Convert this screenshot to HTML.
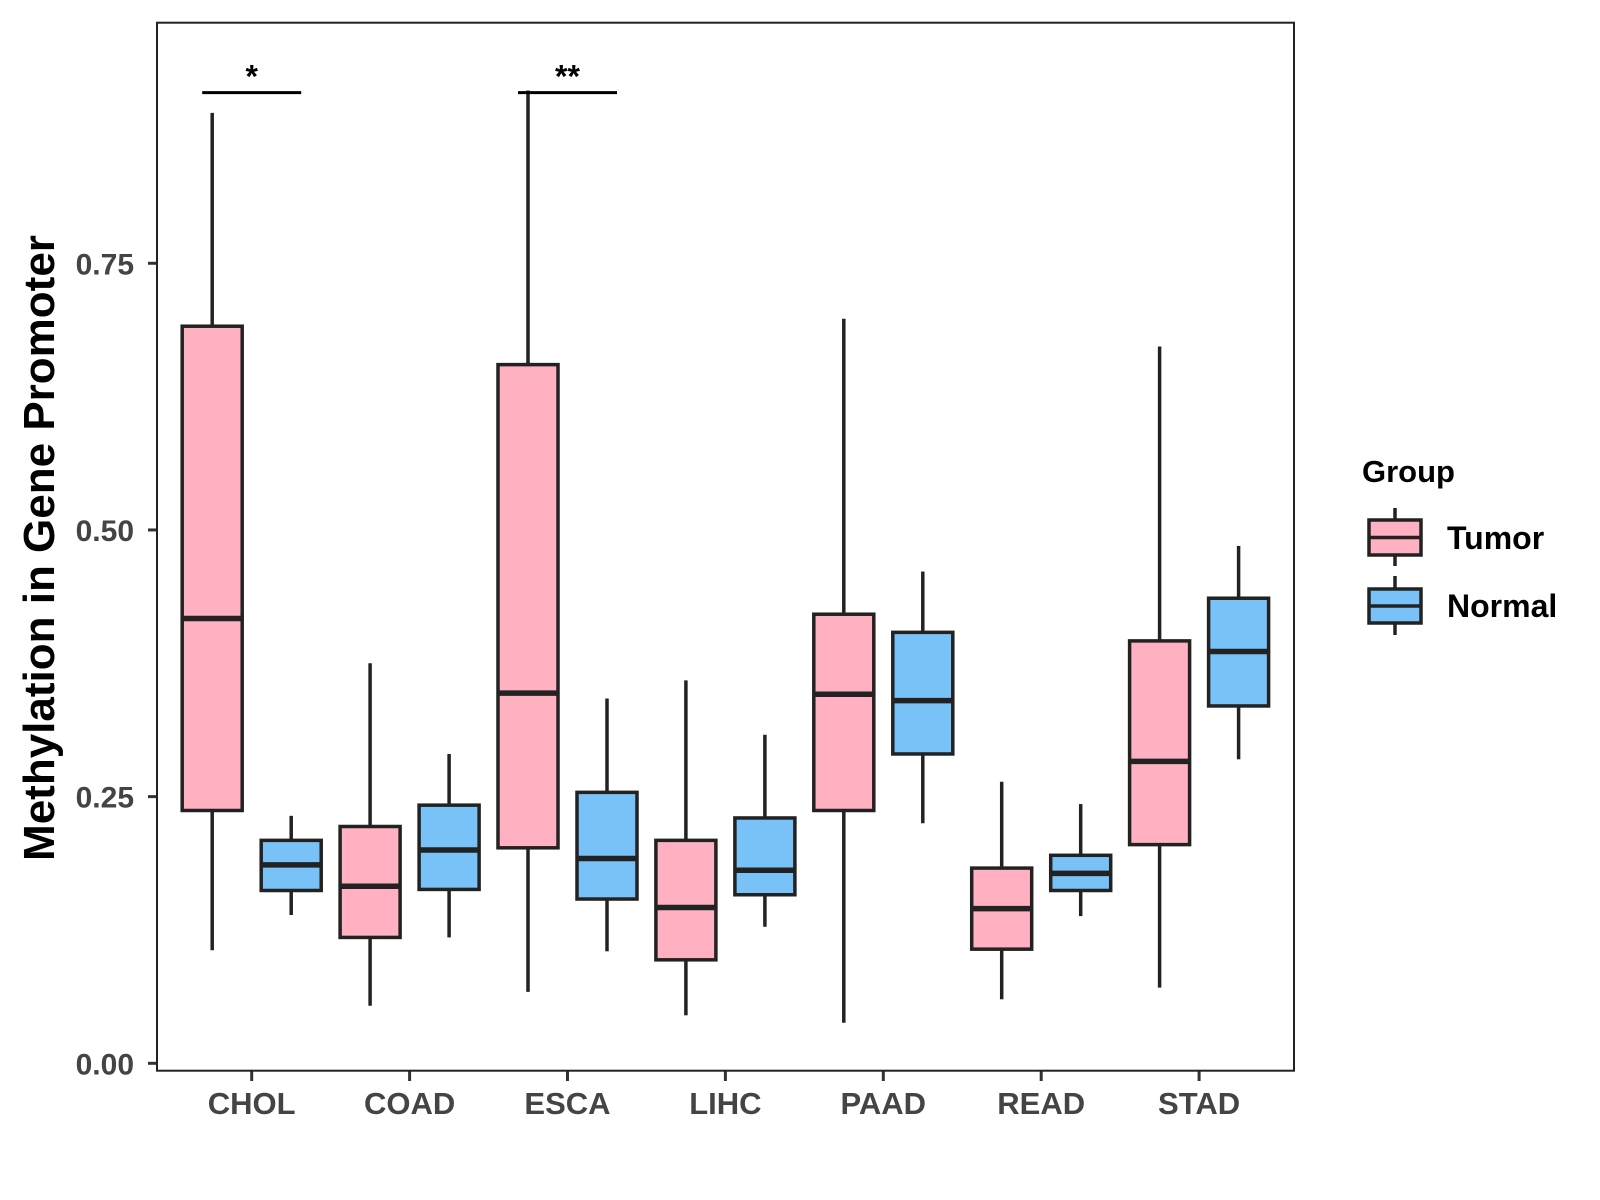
<!DOCTYPE html>
<html><head><meta charset="utf-8"><style>
html,body{margin:0;padding:0;background:#fff;}
svg{display:block;font-family:"Liberation Sans",Arial,sans-serif;}
</style></head><body>
<svg id="chart" width="1600" height="1200" viewBox="0 0 1600 1200" xmlns="http://www.w3.org/2000/svg">
<rect x="0" y="0" width="1600" height="1200" fill="#fff"/>
<g id="marks"></g>
<rect x="157" y="22.7" width="1137" height="1048" fill="none" stroke="#222" stroke-width="2"/>
<text transform="translate(54,548) rotate(-90)" text-anchor="middle" font-size="44" font-weight="bold" fill="#000">Methylation in Gene Promoter</text>
<g>
<text x="1362" y="482" font-size="31" font-weight="bold" fill="#000">Group</text>
<g>
<line x1="1395" y1="508" x2="1395" y2="566" stroke="#222" stroke-width="3.5"/>
<rect x="1369" y="520" width="52" height="35" fill="#FFB0C1" stroke="#222" stroke-width="3.5"/>
<line x1="1369" y1="537.5" x2="1421" y2="537.5" stroke="#222" stroke-width="3.5"/>
<text x="1447" y="549" font-size="32" font-weight="bold" fill="#000">Tumor</text>
</g>
<g>
<line x1="1395" y1="576" x2="1395" y2="635" stroke="#222" stroke-width="3.5"/>
<rect x="1369" y="589" width="52" height="34" fill="#78C2F8" stroke="#222" stroke-width="3.5"/>
<line x1="1369" y1="606" x2="1421" y2="606" stroke="#222" stroke-width="3.5"/>
<text x="1447" y="617" font-size="32" font-weight="bold" fill="#000">Normal</text>
</g>
</g>
</svg>
<script>
const categories = ["CHOL","COAD","ESCA","LIHC","PAAD","READ","STAD"];
// [lower whisker, Q1, median, Q3, upper whisker]
const tumorStats = [
  [0.106,0.237,0.417,0.691,0.891],
  [0.054,0.118,0.166,0.222,0.375],
  [0.067,0.202,0.347,0.655,0.912],
  [0.045,0.097,0.146,0.209,0.359],
  [0.038,0.237,0.346,0.421,0.698],
  [0.060,0.107,0.145,0.183,0.264],
  [0.071,0.205,0.283,0.396,0.672]
];
const normalStats = [
  [0.139,0.162,0.186,0.209,0.232],
  [0.118,0.163,0.200,0.242,0.290],
  [0.105,0.154,0.192,0.254,0.342],
  [0.128,0.158,0.181,0.230,0.308],
  [0.225,0.290,0.340,0.404,0.461],
  [0.138,0.162,0.178,0.195,0.243],
  [0.285,0.335,0.386,0.436,0.485]
];
const yTicks = [0, 0.25, 0.5, 0.75];
const yTickLabels = ["0.00","0.25","0.50","0.75"];
const sigCategories = ["CHOL","ESCA"];
const sigLabels = ["*","**"];
const sigLevel = 0.910;

const NS = "http://www.w3.org/2000/svg";
const g = document.getElementById("marks");
const y = v => 1063.3 - 1066.7 * v;
const x = i => 251.7 + 157.9 * i;
const OFF = 39.5, BW = 60;
function el(tag, attrs, parent){
  const e = document.createElementNS(NS, tag);
  for (const k in attrs) e.setAttribute(k, attrs[k]);
  (parent||g).appendChild(e);
  return e;
}
yTicks.forEach((v,i)=>{
  const t = el("line",{x1:148,x2:157,y1:y(v),y2:y(v),stroke:"#333","stroke-width":3});
  
  
  const l = el("text",{x:134,y:y(v)+11,"text-anchor":"end","font-size":30,"font-weight":"bold",fill:"#444"});
  l.textContent = yTickLabels[i];
  
  
});
categories.forEach((c,i)=>{
  const t = el("line",{x1:x(i),x2:x(i),y1:1071,y2:1081,stroke:"#333","stroke-width":3});
  
  
  const l = el("text",{x:x(i),y:1114,"text-anchor":"middle","font-size":31,"font-weight":"bold",fill:"#444"});
  l.textContent = c;
  
  
});
function box(cx, s, fill, name){
  const grp = el("g",{});
  
  
  el("line",{x1:cx,x2:cx,y1:y(s[4]),y2:y(s[3]),stroke:"#222","stroke-width":3.5},grp);
  el("line",{x1:cx,x2:cx,y1:y(s[1]),y2:y(s[0]),stroke:"#222","stroke-width":3.5},grp);
  el("rect",{x:cx-BW/2,y:y(s[3]),width:BW,height:y(s[1])-y(s[3]),fill:fill,stroke:"#222","stroke-width":3.5},grp);
  el("line",{x1:cx-BW/2,x2:cx+BW/2,y1:y(s[2]),y2:y(s[2]),stroke:"#222","stroke-width":5.5},grp);
}
categories.forEach((c,i)=>{
  box(x(i)-OFF, tumorStats[i], "#FFB0C1", "box-tumor-"+c.toLowerCase());
  box(x(i)+OFF, normalStats[i], "#78C2F8", "box-normal-"+c.toLowerCase());
});
sigCategories.forEach((c,k)=>{
  const i = categories.indexOf(c);
  const ln = el("line",{x1:x(i)-OFF-10,x2:x(i)+OFF+10,y1:y(sigLevel),y2:y(sigLevel),stroke:"#000","stroke-width":3});
  
  
  const t = el("text",{x:x(i),y:y(sigLevel)-5,"text-anchor":"middle","font-size":32,"font-weight":"bold",fill:"#000"});
  t.textContent = sigLabels[k];
  
  
});
</script>
</body></html>
